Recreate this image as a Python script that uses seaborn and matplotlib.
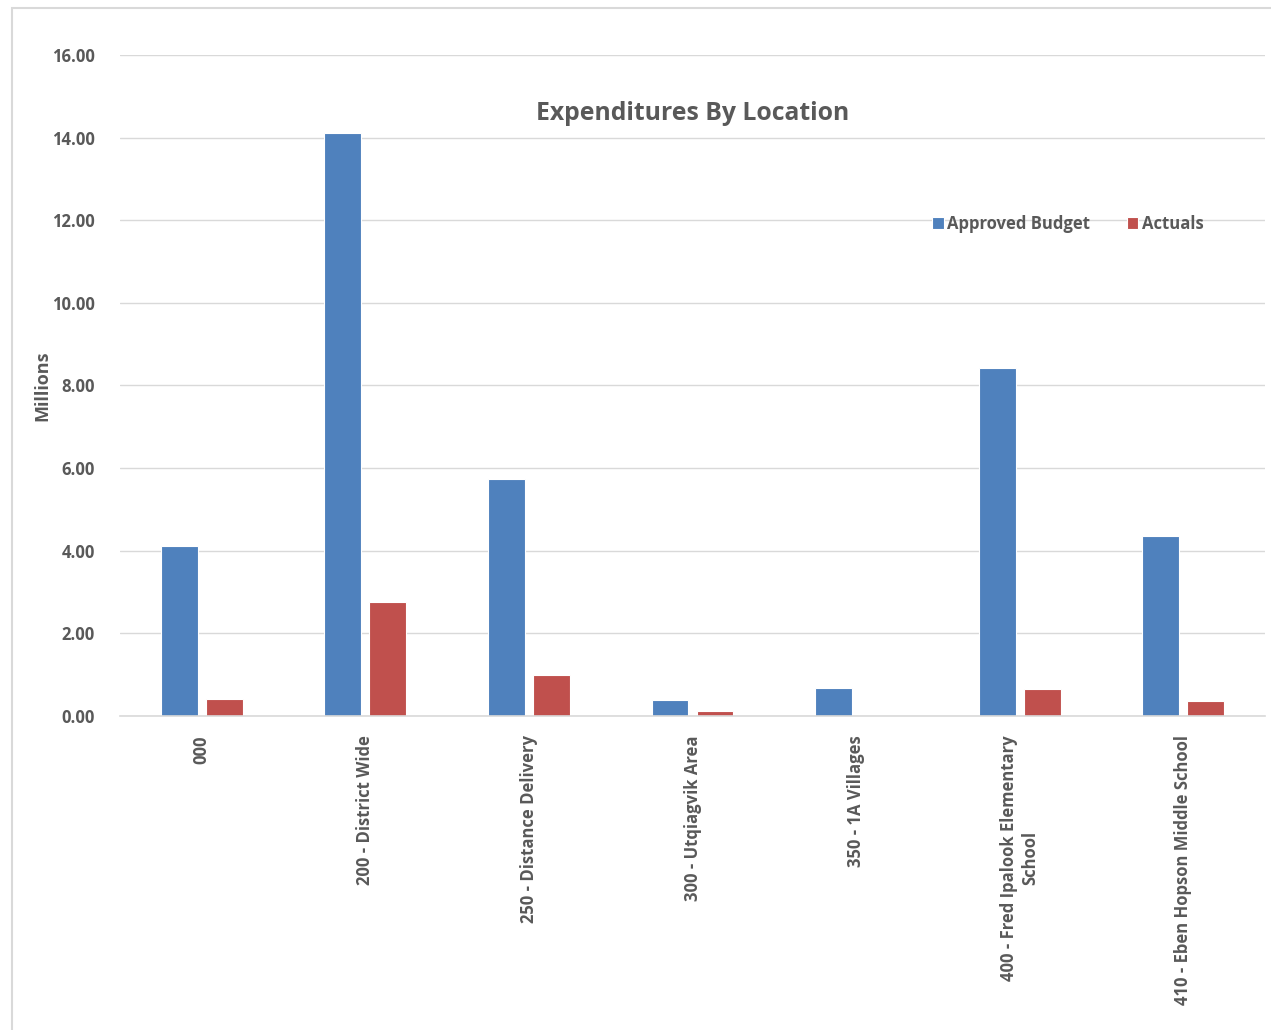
import matplotlib
matplotlib.use("Agg")
import matplotlib.pyplot as plt
import seaborn as sns
import pandas as pd
from matplotlib.patches import Rectangle

locations = [
    "000",
    "200 - District Wide",
    "250 - Distance Delivery",
    "300 - Utqiagvik Area",
    "350 - 1A Villages",
    "400 - Fred Ipalook Elementary\nSchool",
    "410 - Eben Hopson Middle School",
]
approved_budget = [4.12, 14.12, 5.74, 0.39, 0.68, 8.43, 4.36]
actuals = [0.41, 2.76, 0.99, 0.12, 0.0, 0.65, 0.36]
series_names = ["Approved Budget", "Actuals"]
y_ticks = [0, 2, 4, 6, 8, 10, 12, 14, 16]

df = pd.DataFrame({
    "Location": locations * 2,
    "Value": approved_budget + actuals,
    "Series": [series_names[0]] * len(locations) + [series_names[1]] * len(locations),
})

sns.set_theme(style="white")
plt.rcParams["font.family"] = ["Open Sans", "DejaVu Sans"]
text_color = "#595959"
grid_color = "#D9D9D9"

fig = plt.figure(figsize=(12.71, 10.30), dpi=100)
ax = fig.add_axes([0.0944, 0.3049, 0.9009, 0.6417])

sns.barplot(
    data=df, x="Location", y="Value", hue="Series", ax=ax,
    palette=["#4F81BD", "#C0504D"], width=0.55, gap=0.18,
    edgecolor="white", linewidth=0.8, saturation=1,
)

ax.set_xlim(-0.5, len(locations) - 0.5)
ax.set_ylim(0, 16)
ax.set_yticks(y_ticks)
ax.set_yticklabels([f"{v:.2f}" for v in y_ticks], fontsize=12,
                   fontweight="bold", color=text_color)
ax.yaxis.grid(True, color=grid_color, linewidth=1)
ax.set_axisbelow(True)
for side in ["top", "right", "left"]:
    ax.spines[side].set_visible(False)
ax.spines["bottom"].set_color(grid_color)
ax.spines["bottom"].set_linewidth(1.2)
ax.tick_params(axis="y", length=0, pad=18)
ax.tick_params(axis="x", length=0, pad=14)

ax.set_xticks(range(len(locations)))
ax.set_xticklabels(locations, rotation=90, fontsize=12, fontweight="bold",
                   color=text_color, va="top", ha="center",
                   multialignment="center")
ax.set_xlabel("")
ax.set_ylabel("Millions", fontsize=13, fontweight="bold", color=text_color)
ax.yaxis.set_label_coords(-0.0598, 0.5)

ax.text(0.5, 0.912, "Expenditures By Location", transform=ax.transAxes,
        ha="center", va="center", fontsize=17.8, fontweight="bold",
        color=text_color)

leg = ax.legend(loc="center left", bbox_to_anchor=(0.696, 0.745), ncol=2,
                frameon=False, fontsize=12, handlelength=0.7,
                handleheight=0.7, handletextpad=0.2, columnspacing=2.2)
for t in leg.get_texts():
    t.set_color(text_color)
    t.set_fontweight("bold")

# light frame around the chart area
fig.patches.append(Rectangle((0.0098, -0.01), 1.2, 1.0022 - 0.0102 + 0.01,
                             transform=fig.transFigure, fill=False,
                             edgecolor="#D9D9D9", linewidth=1.5))

fig.savefig("out.png", dpi=100, facecolor="white")
